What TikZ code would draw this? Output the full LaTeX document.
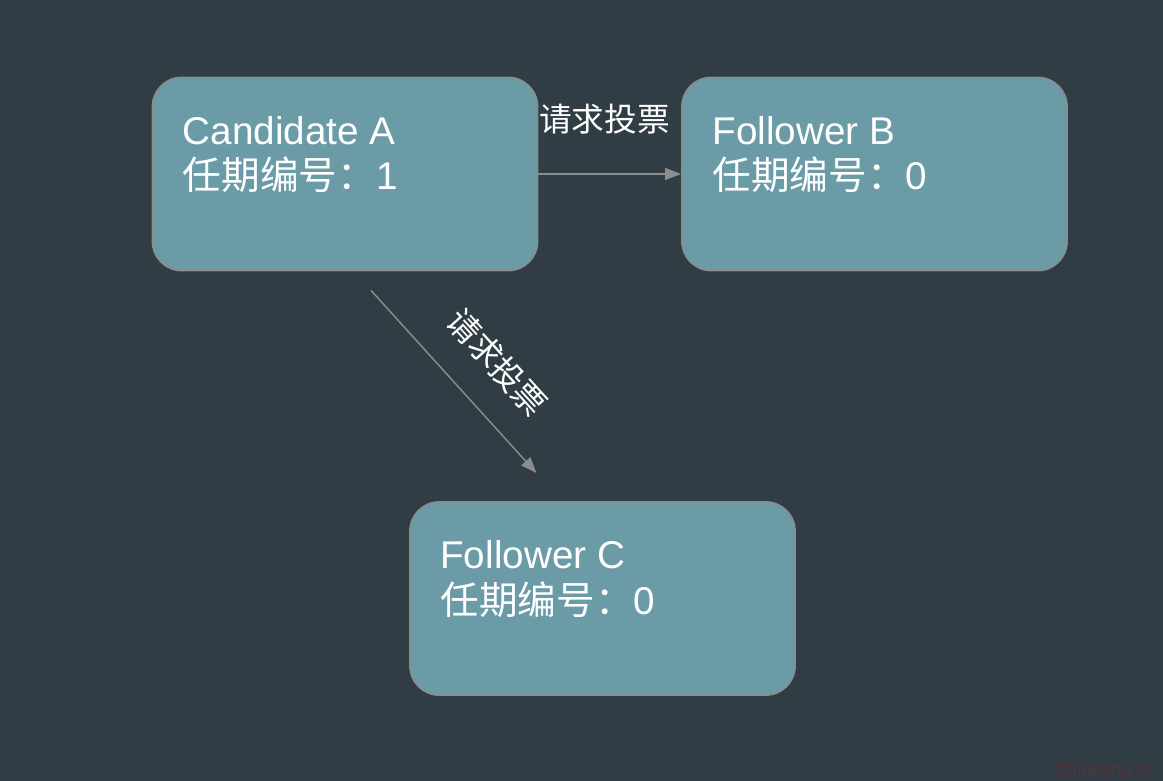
\documentclass[tikz,border=0pt]{standalone}
\usepackage{fontspec}
\setmainfont{Liberation Sans}
\newfontfamily\cjk{Noto Sans CJK SC}
\usetikzlibrary{arrows.meta, positioning, calc}
\definecolor{bgslate}{RGB}{48, 61, 69}
\definecolor{boxteal}{RGB}{106, 155, 167}
\definecolor{edgegray}{RGB}{140, 140, 140}
\definecolor{markred}{RGB}{92, 50, 56}

\begin{document}
\begin{tikzpicture}[x=0.75pt, y=-0.75pt,
    state/.style={draw=edgegray, line width=1.1pt, fill=boxteal, rounded corners=22pt,
                  minimum width=289pt, minimum height=145pt, inner sep=0pt},
    statetext/.style={text=white, align=left, inner sep=0pt, anchor=base west,
                      font=\fontsize{29}{34}\selectfont},
    vote/.style={draw=edgegray, line width=1.1pt, -{Triangle[length=12pt, width=9pt]}},
    votetext/.style={text=white, inner sep=0pt, font=\cjk\fontsize{24.5}{28}\selectfont}]
    % Fondo
    \fill[bgslate] (0,0) rectangle (1163,781);

    % Nodos
    \node[state] (a) at (345,174) {};
    \node[state] (b) at (874.5,174) {};
    \node[state] (c) at (602.5,598.5) {};
    \node[statetext] (atext) at ($(a.north west)+(31,113)$) {Candidate A\\{\cjk 任期编号：}1};
    \node[statetext] (btext) at ($(b.north west)+(31,113)$) {Follower B\\{\cjk 任期编号：}0};
    \node[statetext] (ctext) at ($(c.north west)+(31,113)$) {Follower C\\{\cjk 任期编号：}0};

    % Mensajes
    \draw[vote] (a.east) -- node[votetext, midway, above=29pt, xshift=-4pt] (abtext) {请求投票} (b.west);
    \coordinate (cstart) at ($(a.south)+(26,19)$);
    \coordinate (cend) at ($(c.north)+(-66,-28)$);
    \draw[vote] (cstart) -- node[votetext, pos=0.56, sloped, above=22pt] (actext) {请求投票} (cend);

    % Marca
    \node[text=markred, inner sep=0pt, anchor=base east, font=\fontsize{13.5}{16}\selectfont] (mark) at (1155,775) {@liubang.cc};
\end{tikzpicture}
\end{document}
